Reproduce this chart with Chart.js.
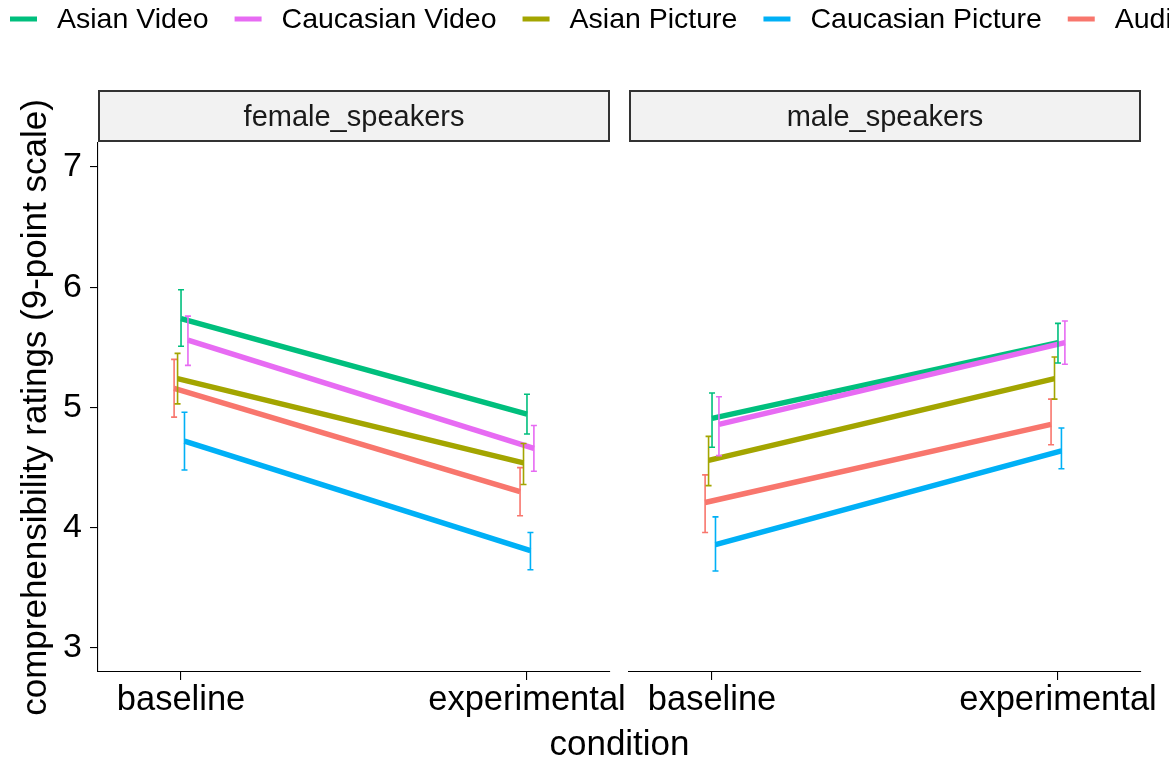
<!DOCTYPE html>
<html>
<head>
<meta charset="utf-8">
<script src="https://cdn.jsdelivr.net/npm/chart.js@4/dist/chart.umd.min.js"></script>
<style>
  html, body { margin: 0; padding: 0; background: #ffffff; }
  #wrap { position: relative; width: 1169px; height: 761px; overflow: hidden; }
  #left { position: absolute; left: 0; top: 0; }
  #right { position: absolute; left: 619px; top: 0; }
</style>
</head>
<body>
<div id="wrap">
  <canvas id="left" width="1169" height="761"></canvas>
  <canvas id="right" width="550" height="761"></canvas>
</div>
<script>
// ---- data ---------------------------------------------------------------
const conditions = ['baseline', 'experimental'];
const groups = ['Asian Video', 'Caucasian Video', 'Asian Picture', 'Caucasian Picture', 'Audio'];
const panels = ['female_speakers', 'male_speakers'];
const yTicks = [3, 4, 5, 6, 7];

// mean ratings per group (rows follow `groups`), columns follow `conditions`
const femaleMean = [[5.74, 4.945], [5.56, 4.66], [5.24, 4.54], [4.72, 3.81], [5.16, 4.30]];
const femaleLow  = [[5.51, 4.78],  [5.35, 4.47], [5.03, 4.36], [4.48, 3.65], [4.92, 4.10]];
const femaleHigh = [[5.98, 5.11],  [5.76, 4.85], [5.45, 4.70], [4.96, 3.96], [5.40, 4.50]];

const maleMean = [[4.91, 5.54], [4.86, 5.54], [4.56, 5.24], [3.86, 4.64], [4.21, 4.86]];
const maleLow  = [[4.67, 5.37], [4.60, 5.36], [4.35, 5.07], [3.64, 4.49], [3.96, 4.69]];
const maleHigh = [[5.12, 5.70], [5.09, 5.72], [4.76, 5.42], [4.09, 4.83], [4.44, 5.07]];

// ---- styling ------------------------------------------------------------
const colors = {
  'Asian Video': '#00BF7D',
  'Caucasian Video': '#E76BF3',
  'Asian Picture': '#A3A500',
  'Caucasian Picture': '#00B0F6',
  'Audio': '#F8766D'
};
// factor level order, used for dodging and drawing order
const levelOrder = ['Audio', 'Asian Picture', 'Asian Video', 'Caucasian Picture', 'Caucasian Video'];
const DODGE = 0.01;
const FONT = "'Liberation Sans', Arial, Helvetica, sans-serif";
const Y_MIN = 2.8, Y_MAX = 7.2, X_MIN = 0.76, X_MAX = 2.24;

function buildDatasets(mean, low, high) {
  return groups.map((g, gi) => {
    const rank = levelOrder.indexOf(g);
    const shift = (rank - 2) * DODGE;
    return {
      label: g,
      data: conditions.map((c, ci) => ({ x: ci + 1 + shift, y: mean[gi][ci] })),
      errLow: low[gi],
      errHigh: high[gi],
      borderColor: colors[g],
      backgroundColor: colors[g],
      borderWidth: 5.5,
      borderCapStyle: 'butt',
      pointRadius: 0,
      tension: 0,
      order: levelOrder.length - 1 - rank
    };
  });
}

// vertical error bars with small caps, at the dodged point positions
const errorBars = {
  id: 'errorBars',
  afterDatasetsDraw(chart) {
    const ctx = chart.ctx;
    const xs = chart.scales.x, ys = chart.scales.y;
    const sets = chart.data.datasets.slice().sort((a, b) => b.order - a.order);
    ctx.save();
    sets.forEach(ds => {
      ctx.strokeStyle = ds.borderColor;
      ctx.lineWidth = 1.6;
      ds.data.forEach((p, i) => {
        const x = xs.getPixelForValue(p.x);
        const y1 = ys.getPixelForValue(ds.errLow[i]);
        const y2 = ys.getPixelForValue(ds.errHigh[i]);
        ctx.beginPath();
        ctx.moveTo(x, y1); ctx.lineTo(x, y2);
        ctx.moveTo(x - 3, y1); ctx.lineTo(x + 3, y1);
        ctx.moveTo(x - 3, y2); ctx.lineTo(x + 3, y2);
        ctx.stroke();
      });
    });
    ctx.restore();
  }
};

// facet strip above each panel
const strip = {
  id: 'strip',
  afterDraw(chart, args, opts) {
    const ctx = chart.ctx, a = chart.chartArea;
    ctx.save();
    ctx.fillStyle = '#F2F2F2';
    ctx.fillRect(a.left, a.top - 53, a.right - a.left, 52);
    ctx.strokeStyle = '#333333';
    ctx.lineWidth = 2;
    ctx.strokeRect(a.left + 1, a.top - 52, a.right - a.left - 2, 50);
    ctx.fillStyle = '#1A1A1A';
    ctx.font = '29px ' + FONT;
    ctx.textAlign = 'center';
    ctx.textBaseline = 'middle';
    ctx.fillText(opts.text, (a.left + a.right) / 2, a.top - 25);
    ctx.restore();
  }
};

// top legend and shared x-axis title
const pageText = {
  id: 'pageText',
  afterDraw(chart) {
    const ctx = chart.ctx;
    ctx.save();
    ctx.font = '28.5px ' + FONT;
    ctx.textBaseline = 'middle';
    ctx.textAlign = 'left';
    let x = 10;
    const y = 19;
    groups.forEach(g => {
      ctx.strokeStyle = colors[g];
      ctx.lineWidth = 5;
      ctx.beginPath();
      ctx.moveTo(x, y); ctx.lineTo(x + 27, y);
      ctx.stroke();
      ctx.fillStyle = '#000000';
      ctx.fillText(g, x + 47, y + 1);
      x += 47 + ctx.measureText(g).width + 26;
    });
    ctx.font = '35px ' + FONT;
    ctx.textAlign = 'center';
    ctx.fillText('condition', 619.5, 745);
    ctx.restore();
  }
};

function xScale() {
  return {
    type: 'linear',
    min: X_MIN, max: X_MAX,
    afterBuildTicks: s => { s.ticks = [{ value: 1 }, { value: 2 }]; },
    afterFit: s => { s.height = 89; },
    ticks: {
      callback: v => conditions[Math.round(v) - 1],
      font: { family: FONT, size: 34.5 },
      color: '#000000',
      padding: 0,
      maxRotation: 0,
      autoSkip: false
    },
    grid: { drawOnChartArea: false, drawTicks: true, tickLength: 8, color: '#000000', lineWidth: 1.1 },
    border: { display: true, color: '#000000', width: 1.1 }
  };
}

Chart.defaults.font.family = FONT;

new Chart(document.getElementById('left'), {
  type: 'line',
  data: { datasets: buildDatasets(femaleMean, femaleLow, femaleHigh) },
  options: {
    responsive: false,
    animation: false,
    events: [],
    layout: { padding: { left: 0, top: 143, right: 559, bottom: 0 } },
    scales: {
      x: xScale(),
      y: {
        type: 'linear',
        min: Y_MIN, max: Y_MAX,
        afterBuildTicks: s => { s.ticks = yTicks.map(v => ({ value: v })); },
        afterFit: s => { s.width = 98; },
        ticks: { font: { family: FONT, size: 34 }, color: '#000000', padding: 8 },
        grid: { drawOnChartArea: false, drawTicks: true, tickLength: 8, color: '#000000', lineWidth: 1.1 },
        border: { display: true, color: '#000000', width: 1.1 },
        title: {
          display: true,
          text: 'comprehensibility ratings (9-point scale)',
          font: { family: FONT, size: 35 },
          color: '#000000',
          padding: { top: 15, bottom: 0 }
        }
      }
    },
    plugins: { legend: { display: false }, tooltip: { enabled: false }, strip: { text: panels[0] } }
  },
  plugins: [errorBars, strip, pageText]
});

new Chart(document.getElementById('right'), {
  type: 'line',
  data: { datasets: buildDatasets(maleMean, maleLow, maleHigh) },
  options: {
    responsive: false,
    animation: false,
    events: [],
    layout: { padding: { left: 10, top: 143, right: 28, bottom: 0 } },
    scales: {
      x: xScale(),
      y: { type: 'linear', min: Y_MIN, max: Y_MAX, display: false }
    },
    plugins: { legend: { display: false }, tooltip: { enabled: false }, strip: { text: panels[1] } }
  },
  plugins: [errorBars, strip]
});
</script>
</body>
</html>
